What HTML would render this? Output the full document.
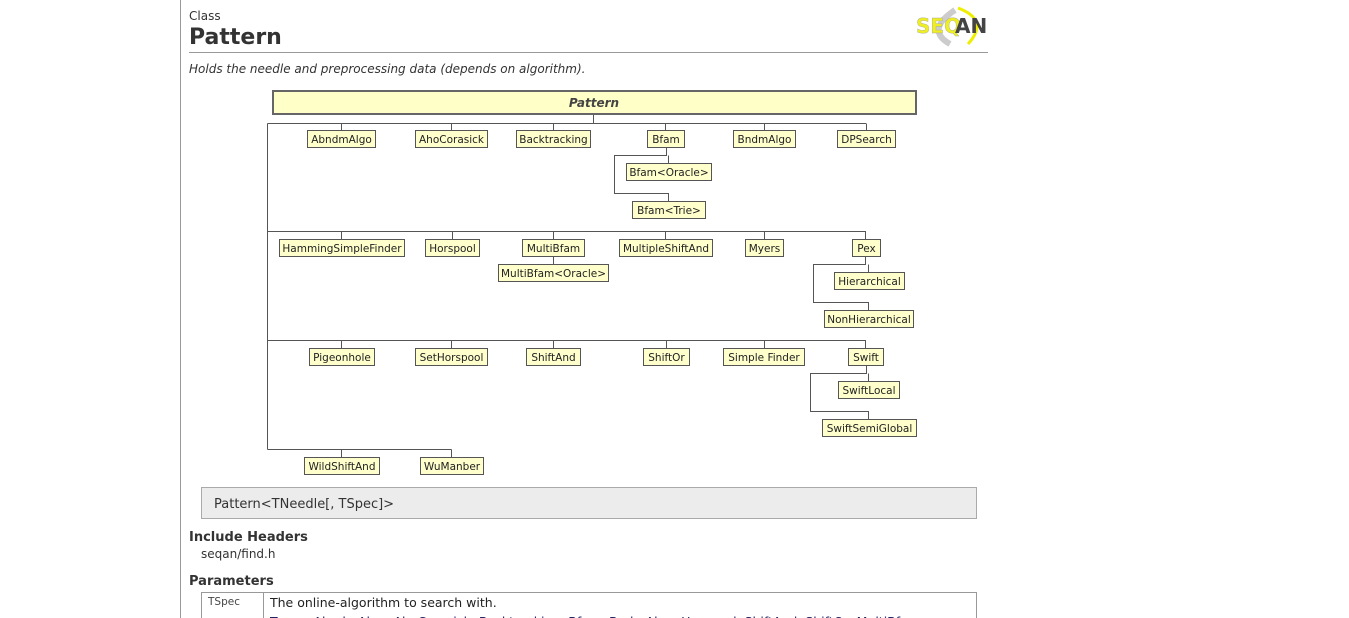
<!DOCTYPE html>
<html><head><meta charset="utf-8"><style>
html,body{margin:0;padding:0;background:#fff;}
svg{display:block;}
text{font-family:"DejaVu Sans","Liberation Sans",sans-serif;}
</style></head><body>
<svg width="1349" height="618" viewBox="0 0 1349 618" xmlns="http://www.w3.org/2000/svg">
<line x1="180.5" y1="0" x2="180.5" y2="618" stroke="#999" stroke-width="1"/>
<text x="189" y="20" font-size="12" fill="#333" font-family="Liberation Sans">Class</text>
<text x="189" y="44" font-size="22" font-weight="bold" fill="#333">Pattern</text>
<line x1="189" y1="52.5" x2="988" y2="52.5" stroke="#999"/>
<text x="189" y="73" font-size="12" font-style="italic" fill="#333">Holds the needle and preprocessing data (depends on algorithm).</text>
<!-- logo -->
<path d="M958 8 Q990 20 968 44" stroke="#eeee00" stroke-width="3" fill="none"/>
<path d="M950 44 Q925 30 955 10" stroke="#ccc" stroke-width="6" fill="none"/>
<text x="916" y="33" font-size="20" font-weight="bold" fill="#eeee22" stroke="#aa9" stroke-width="0.4" font-family="Liberation Sans">SEQ</text>
<text x="955" y="33" font-size="20" font-weight="bold" fill="#444" font-family="Liberation Sans">AN</text>

<g stroke="#555" stroke-width="1" fill="none" shape-rendering="crispEdges">
<line x1="593.5" y1="114" x2="593.5" y2="123.5"/>
<line x1="267.5" y1="123.5" x2="866" y2="123.5"/>
<line x1="267.5" y1="123.5" x2="267.5" y2="449.5"/>
<line x1="341.5" y1="123.5" x2="341.5" y2="130"/>
<line x1="451.5" y1="123.5" x2="451.5" y2="130"/>
<line x1="553.5" y1="123.5" x2="553.5" y2="130"/>
<line x1="665.5" y1="123.5" x2="665.5" y2="130"/>
<line x1="764.5" y1="123.5" x2="764.5" y2="130"/>
<line x1="866.5" y1="123.5" x2="866.5" y2="130"/>
<polyline points="666.5,147 666.5,155.5 614.5,155.5 614.5,193.5 668.5,193.5 668.5,201"/>
<line x1="668.5" y1="155.5" x2="668.5" y2="163"/>
<line x1="267.5" y1="231.5" x2="866" y2="231.5"/>
<line x1="341.5" y1="231.5" x2="341.5" y2="239"/>
<line x1="452.5" y1="231.5" x2="452.5" y2="239"/>
<line x1="553.5" y1="231.5" x2="553.5" y2="239"/>
<line x1="665.5" y1="231.5" x2="665.5" y2="239"/>
<line x1="764.5" y1="231.5" x2="764.5" y2="239"/>
<line x1="865.5" y1="231.5" x2="865.5" y2="239"/>
<line x1="553.5" y1="256" x2="553.5" y2="264"/>
<polyline points="865.5,256 865.5,264.5 813.5,264.5 813.5,302.5 868.5,302.5 868.5,310"/>
<line x1="868.5" y1="264.5" x2="868.5" y2="272"/>
<line x1="267.5" y1="340.5" x2="866" y2="340.5"/>
<line x1="341.5" y1="340.5" x2="341.5" y2="348"/>
<line x1="451.5" y1="340.5" x2="451.5" y2="348"/>
<line x1="553.5" y1="340.5" x2="553.5" y2="348"/>
<line x1="666.5" y1="340.5" x2="666.5" y2="348"/>
<line x1="764.5" y1="340.5" x2="764.5" y2="348"/>
<line x1="865.5" y1="340.5" x2="865.5" y2="348"/>
<polyline points="866.5,365 866.5,373.5 810.5,373.5 810.5,411.5 868.5,411.5 868.5,419"/>
<line x1="868.5" y1="373.5" x2="868.5" y2="381"/>
<line x1="267.5" y1="449.5" x2="451.5" y2="449.5"/>
<line x1="341.5" y1="449.5" x2="341.5" y2="457"/>
<line x1="451.5" y1="449.5" x2="451.5" y2="457"/>
</g>

<rect x="273" y="91" width="643" height="23" fill="#ffffc8" stroke="#666" stroke-width="2"/>
<text x="594" y="107" font-size="12" font-weight="bold" font-style="italic" fill="#444" text-anchor="middle">Pattern</text>

<g font-size="10.5" fill="#222" text-anchor="middle">
<g fill="#ffffcc" stroke="#555" shape-rendering="crispEdges">
<rect x="307.5" y="130.5" width="68" height="17"/>
<rect x="415.5" y="130.5" width="72" height="17"/>
<rect x="516.5" y="130.5" width="74" height="17"/>
<rect x="647.5" y="130.5" width="37" height="17"/>
<rect x="733.5" y="130.5" width="62" height="17"/>
<rect x="837.5" y="130.5" width="58" height="17"/>
<rect x="626.5" y="163.5" width="85" height="17"/>
<rect x="632.5" y="201.5" width="73" height="17"/>
<rect x="279.5" y="239.5" width="125" height="17"/>
<rect x="425.5" y="239.5" width="54" height="17"/>
<rect x="522.5" y="239.5" width="62" height="17"/>
<rect x="619.5" y="239.5" width="93" height="17"/>
<rect x="745.5" y="239.5" width="38" height="17"/>
<rect x="852.5" y="239.5" width="28" height="17"/>
<rect x="498.5" y="264.5" width="110" height="17"/>
<rect x="834.5" y="272.5" width="70" height="17"/>
<rect x="824.5" y="310.5" width="89" height="17"/>
<rect x="309.5" y="348.5" width="65" height="17"/>
<rect x="415.5" y="348.5" width="72" height="17"/>
<rect x="526.5" y="348.5" width="54" height="17"/>
<rect x="643.5" y="348.5" width="46" height="17"/>
<rect x="723.5" y="348.5" width="81" height="17"/>
<rect x="848.5" y="348.5" width="35" height="17"/>
<rect x="838.5" y="381.5" width="61" height="17"/>
<rect x="822.5" y="419.5" width="94" height="17"/>
<rect x="304.5" y="457.5" width="75" height="17"/>
<rect x="420.5" y="457.5" width="63" height="17"/>
</g>
<text x="341.5" y="143">AbndmAlgo</text>
<text x="451.5" y="143">AhoCorasick</text>
<text x="553.5" y="143">Backtracking</text>
<text x="666" y="143">Bfam</text>
<text x="764.5" y="143">BndmAlgo</text>
<text x="866.5" y="143">DPSearch</text>
<text x="669" y="176">Bfam&lt;Oracle&gt;</text>
<text x="669" y="214">Bfam&lt;Trie&gt;</text>
<text x="342" y="252">HammingSimpleFinder</text>
<text x="452.5" y="252">Horspool</text>
<text x="553.5" y="252">MultiBfam</text>
<text x="666" y="252">MultipleShiftAnd</text>
<text x="764.5" y="252">Myers</text>
<text x="866.5" y="252">Pex</text>
<text x="553.5" y="277">MultiBfam&lt;Oracle&gt;</text>
<text x="869.5" y="285">Hierarchical</text>
<text x="869" y="323">NonHierarchical</text>
<text x="342" y="361">Pigeonhole</text>
<text x="451.5" y="361">SetHorspool</text>
<text x="553.5" y="361">ShiftAnd</text>
<text x="666.5" y="361">ShiftOr</text>
<text x="764" y="361">Simple Finder</text>
<text x="866" y="361">Swift</text>
<text x="869" y="394">SwiftLocal</text>
<text x="869.5" y="432">SwiftSemiGlobal</text>
<text x="342" y="470">WildShiftAnd</text>
<text x="452" y="470">WuManber</text>
</g>

<rect x="201.5" y="487.5" width="775" height="31" fill="#ececec" stroke="#aaa"/>
<text x="214" y="508" font-size="13" fill="#333">Pattern&lt;TNeedle[, TSpec]&gt;</text>
<text x="189" y="541" font-size="13" font-weight="bold" fill="#333">Include Headers</text>
<text x="201" y="558" font-size="12" fill="#333">seqan/find.h</text>
<text x="189" y="585" font-size="13" font-weight="bold" fill="#333">Parameters</text>
<g stroke="#999" fill="none" shape-rendering="crispEdges">
<rect x="201.5" y="592.5" width="775" height="40"/>
<line x1="263.5" y1="592.5" x2="263.5" y2="618"/>
</g>
<text x="208" y="605" font-size="10.5" fill="#444" font-family="Liberation Mono">TSpec</text>
<text x="270" y="607" font-size="12.5" fill="#222">The online-algorithm to search with.</text>
<text x="270" y="626" font-size="12.5" fill="#226">Types: AbndmAlgo, AhoCorasick, Backtracking, Bfam, BndmAlgo, Horspool, ShiftAnd, ShiftOr, MultiBfam</text>
</svg>
</body></html>
